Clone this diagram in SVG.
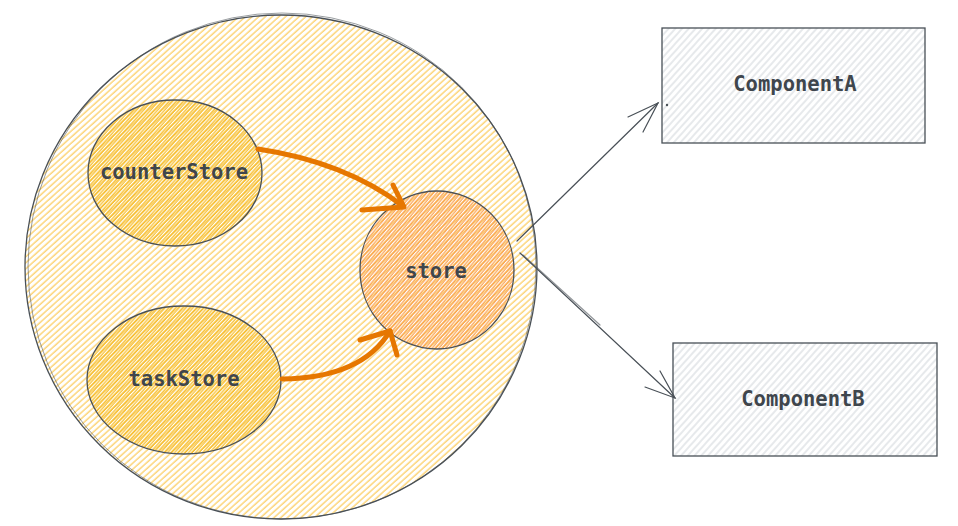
<svg xmlns="http://www.w3.org/2000/svg" width="958" height="526" viewBox="0 0 958 526">
<defs>
<pattern id="hY" width="4.5" height="4.5" patternUnits="userSpaceOnUse" patternTransform="rotate(-42)">
<line x1="0" y1="1" x2="4.5" y2="1" stroke="#fab005" stroke-width="1" stroke-opacity="0.8"/>
</pattern>
<pattern id="hY2" width="2.6" height="2.6" patternUnits="userSpaceOnUse" patternTransform="rotate(-48)">
<line x1="0" y1="1" x2="2.6" y2="1" stroke="#f5b000" stroke-width="1.2" stroke-opacity="0.85"/>
</pattern>
<pattern id="hO" width="2.6" height="2.6" patternUnits="userSpaceOnUse" patternTransform="rotate(-50)">
<line x1="0" y1="1" x2="2.6" y2="1" stroke="#fb8c2c" stroke-width="1.2" stroke-opacity="0.85"/>
</pattern>
<pattern id="hG" width="5" height="5" patternUnits="userSpaceOnUse" patternTransform="rotate(-48)">
<line x1="0" y1="1" x2="5" y2="1" stroke="#c8ced4" stroke-width="0.9"/>
</pattern>
</defs>
<style>
.out{fill:none;stroke:#495057;stroke-width:1.3}
.out2{fill:none;stroke:#495057;stroke-width:0.8;stroke-opacity:0.7}
.lbl{font-family:"DejaVu Sans Mono","Liberation Mono",monospace;font-size:20.5px;font-weight:bold;fill:#3f464d;text-anchor:middle;dominant-baseline:central}
.orange{fill:none;stroke:#e67700;stroke-width:5;stroke-linecap:round;stroke-linejoin:round}
.thin{fill:none;stroke:#495057;stroke-width:1.2;stroke-linecap:round}
</style>
<rect width="958" height="526" fill="#ffffff"/>
<g id="container">
<ellipse cx="281" cy="267" rx="256" ry="252" fill="url(#hY)"/>
<ellipse class="out" cx="281" cy="267" rx="256" ry="252"/>
<ellipse class="out2" cx="282" cy="266" rx="254" ry="253"/>
</g>
<g id="counterStore">
<ellipse cx="175" cy="173" rx="87" ry="73" fill="url(#hY2)"/>
<ellipse class="out" cx="175" cy="173" rx="87" ry="73"/>
<text class="lbl" x="174" y="172">counterStore</text>
</g>
<g id="taskStore">
<ellipse cx="184" cy="380" rx="97" ry="74" fill="url(#hY2)"/>
<ellipse class="out" cx="184" cy="380" rx="97" ry="74"/>
<text class="lbl" x="184" y="379">taskStore</text>
</g>
<g id="store">
<ellipse cx="437" cy="270" rx="77" ry="79" fill="url(#hO)"/>
<ellipse class="out" cx="437" cy="270" rx="77" ry="79"/>
<text class="lbl" x="436" y="271">store</text>
</g>
<g id="componentA">
<rect x="662" y="28" width="263" height="115" fill="url(#hG)"/>
<rect class="out" x="662" y="28" width="263" height="115"/>
<circle cx="667" cy="105" r="1.2" fill="#495057"/>
<text class="lbl" x="795" y="84">ComponentA</text>
</g>
<g id="componentB">
<rect x="673" y="343" width="264" height="113" fill="url(#hG)"/>
<rect class="out" x="673" y="343" width="264" height="113"/>
<text class="lbl" x="803" y="399">ComponentB</text>
</g>
<g id="connectors">
<path class="orange" d="M258 149 Q345 162 403 206"/>
<path class="orange" d="M362 210 L404 207 L393 185"/>
<path class="orange" d="M282 379 Q362 378 390 331"/>
<path class="orange" d="M360 340 L390 331 L397 355"/>
<path class="thin" d="M517 241 L658 103"/>
<path class="thin" d="M628 117 L658 103 L643 132"/>
<path class="thin" d="M520 253 L675 398"/>
<path class="thin" d="M523 255 L600 325" stroke-opacity="0.6" stroke-width="0.8"/>
<path class="thin" d="M645 387 L675 398 L660 371"/>
</g>
</svg>
